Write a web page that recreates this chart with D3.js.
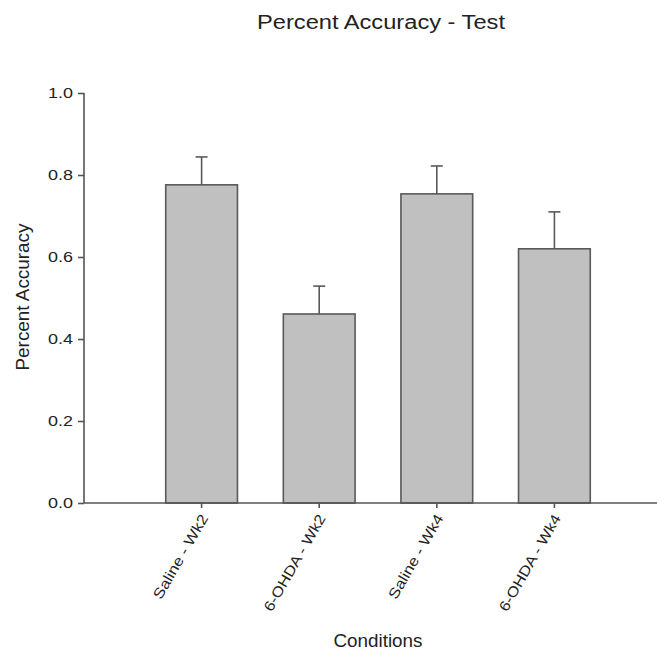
<!DOCTYPE html>
<html>
<head>
<meta charset="utf-8">
<script src="https://cdn.jsdelivr.net/npm/d3@7"></script>
<style>
  html, body { margin: 0; padding: 0; background: #fff; }
  svg { display: block; font-family: "Liberation Sans", Arial, sans-serif; }
</style>
</head>
<body>
<svg id="chart" width="657" height="653"></svg>
<script>
// Conditions and their mean percent accuracy with standard error
const categories = ["Saline - Wk2", "6-OHDA - Wk2", "Saline - Wk4", "6-OHDA - Wk4"];
const means = [0.776, 0.461, 0.754, 0.620];
const errors = [0.068, 0.068, 0.068, 0.090];
const yTickValues = [0.0, 0.2, 0.4, 0.6, 0.8, 1.0];

const title = "Percent Accuracy - Test";
const xTitle = "Conditions";
const yTitle = "Percent Accuracy";

const svg = d3.select("#chart");
const W = 657, H = 653;
const plotLeft = 84, plotBottom = 503, plotTop = 93;

const axisColor = "#555";
const textColor = "#222";

const x = d3.scaleBand()
  .domain(categories)
  .range([plotLeft, 672])
  .paddingInner(0.39)
  .paddingOuter(0.695);

const y = d3.scaleLinear().domain([0, 1]).range([plotBottom, plotTop]);

// bars
const g = svg.append("g");
g.selectAll("rect.bar")
  .data(categories)
  .join("rect")
  .attr("class", "bar")
  .attr("x", d => x(d))
  .attr("y", (d, i) => y(means[i]))
  .attr("width", x.bandwidth())
  .attr("height", (d, i) => y(0) - y(means[i]))
  .attr("fill", "#c0c0c0")
  .attr("stroke", "#595959")
  .attr("stroke-width", 1.6);

// upper error bars
const capHalf = 6;
const eb = g.selectAll("g.err").data(categories).join("g").attr("class", "err");
eb.append("line")
  .attr("x1", d => x(d) + x.bandwidth() / 2)
  .attr("x2", d => x(d) + x.bandwidth() / 2)
  .attr("y1", (d, i) => y(means[i]))
  .attr("y2", (d, i) => y(means[i] + errors[i]))
  .attr("stroke", "#595959").attr("stroke-width", 1.6);
eb.append("line")
  .attr("x1", d => x(d) + x.bandwidth() / 2 - capHalf)
  .attr("x2", d => x(d) + x.bandwidth() / 2 + capHalf)
  .attr("y1", (d, i) => y(means[i] + errors[i]))
  .attr("y2", (d, i) => y(means[i] + errors[i]))
  .attr("stroke", "#595959").attr("stroke-width", 1.6);

// y axis
const yAxis = svg.append("g")
  .attr("transform", `translate(${plotLeft},0)`)
  .call(d3.axisLeft(y).tickValues(yTickValues).tickFormat(d3.format(".1f")).tickSize(6).tickPadding(5));
yAxis.select(".domain").attr("d", `M0,${plotTop}V${plotBottom}`);
yAxis.selectAll("path, line").attr("stroke", axisColor).attr("stroke-width", 1.6);
yAxis.selectAll("text")
  .attr("fill", textColor)
  .attr("font-size", 14.5)
  .attr("font-family", "Liberation Sans, Arial, sans-serif")
  .attr("textLength", 25)
  .attr("lengthAdjust", "spacingAndGlyphs");

// x axis
const xAxis = svg.append("g")
  .attr("transform", `translate(0,${plotBottom})`)
  .call(d3.axisBottom(x).tickSize(5).tickFormat(""));
xAxis.select(".domain").attr("d", `M${plotLeft},0H${W}`);
xAxis.selectAll("path, line").attr("stroke", axisColor).attr("stroke-width", 1.6);

// rotated category labels
const labelLen = [95, 109, 95, 109];
svg.append("g").selectAll("text")
  .data(categories)
  .join("text")
  .attr("transform", d => `translate(${x(d) + x.bandwidth() / 2 + 7},${plotBottom + 15}) rotate(-60)`)
  .attr("text-anchor", "end")
  .attr("font-size", 14.5)
  .attr("fill", textColor)
  .attr("textLength", (d, i) => labelLen[i])
  .attr("lengthAdjust", "spacingAndGlyphs")
  .text(d => d);

// titles
svg.append("text")
  .attr("x", 381).attr("y", 29)
  .attr("text-anchor", "middle")
  .attr("font-size", 20)
  .attr("fill", textColor)
  .attr("textLength", 248).attr("lengthAdjust", "spacingAndGlyphs")
  .text(title);

svg.append("text")
  .attr("x", 378).attr("y", 647)
  .attr("text-anchor", "middle")
  .attr("font-size", 18)
  .attr("fill", textColor)
  .attr("textLength", 89).attr("lengthAdjust", "spacingAndGlyphs")
  .text(xTitle);

svg.append("text")
  .attr("transform", "translate(29,297) rotate(-90)")
  .attr("text-anchor", "middle")
  .attr("font-size", 18)
  .attr("fill", textColor)
  .attr("textLength", 147).attr("lengthAdjust", "spacingAndGlyphs")
  .text(yTitle);
</script>
</body>
</html>
